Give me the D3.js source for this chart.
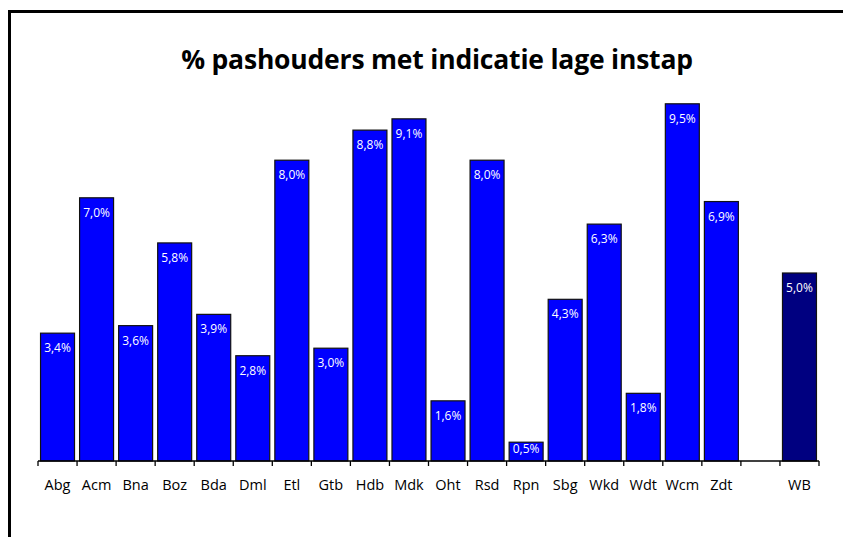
<!DOCTYPE html>
<html lang="nl">
<head>
<meta charset="UTF-8">
<title>% pashouders met indicatie lage instap</title>
<script src="https://cdn.jsdelivr.net/npm/d3@7"></script>
<style>
  body { margin: 0; background: #fff; }
  svg { display: block; font-family: "Open Sans", "Noto Sans", sans-serif; }
  .title { font-size: 26.5px; font-weight: bold; letter-spacing: -0.2px; }
  .cat { font-size: 14.5px; fill: #000; }
  .val { font-size: 12px; fill: #fff; }
</style>
</head>
<body>
<script>
  // data
  const categories = ["Abg","Acm","Bna","Boz","Bda","Dml","Etl","Gtb","Hdb","Mdk","Oht","Rsd","Rpn","Sbg","Wkd","Wdt","Wcm","Zdt","","WB"];
  const values = [3.4, 7.0, 3.6, 5.8, 3.9, 2.8, 8.0, 3.0, 8.8, 9.1, 1.6, 8.0, 0.5, 4.3, 6.3, 1.8, 9.5, 6.9, null, 5.0];
  const labels = ["3,4%","7,0%","3,6%","5,8%","3,9%","2,8%","8,0%","3,0%","8,8%","9,1%","1,6%","8,0%","0,5%","4,3%","6,3%","1,8%","9,5%","6,9%","","5,0%"];
  const titleText = "% pashouders met indicatie lage instap";

  const width = 843, height = 537;
  const margin = {left: 38, right: 24, top: 85, bottom: 76};

  const svg = d3.select('body').append('svg')
      .attr('width', width)
      .attr('height', height);

  // frame
  svg.append('rect')
      .attr('x', 9.5).attr('y', 11.5)
      .attr('width', 860).attr('height', 560)
      .attr('fill', 'none').attr('stroke', '#000').attr('stroke-width', 3);

  const x = d3.scaleBand()
      .domain(d3.range(categories.length))
      .range([margin.left, width - margin.right])
      .paddingInner(0.13)
      .paddingOuter(0.065);

  const y = d3.scaleLinear()
      .domain([0, 10])
      .range([height - margin.bottom, margin.top]);

  svg.append('text')
      .attr('class', 'title')
      .attr('x', 437).attr('y', 69)
      .attr('text-anchor', 'middle')
      .text(titleText);

  const data = values.map((v, i) => ({i: i, v: v, label: labels[i]}))
      .filter(d => d.v !== null);

  svg.selectAll('rect.bar')
      .data(data)
      .enter().append('rect')
      .attr('class', 'bar')
      .attr('x', d => x(d.i))
      .attr('y', d => y(d.v))
      .attr('width', x.bandwidth())
      .attr('height', d => y(0) - y(d.v))
      .attr('fill', d => categories[d.i] === 'WB' ? '#000080' : '#0000ff')
      .attr('stroke', '#111')
      .attr('stroke-width', 1.2);

  // label inside end, pulled up for very short bars
  svg.selectAll('text.val')
      .data(data)
      .enter().append('text')
      .attr('class', 'val')
      .attr('x', d => x(d.i) + x.bandwidth() / 2)
      .attr('y', d => Math.min(y(d.v) + 19, y(0) - 8))
      .attr('text-anchor', 'middle')
      .text(d => d.label);

  // x axis: ticks between categories
  const step = x.step();
  const x0 = margin.left;
  const tickPos = d3.range(categories.length + 1).map(k => x0 + k * step);

  const axis = svg.append('g');
  axis.append('line')
      .attr('x1', x0).attr('x2', width - margin.right)
      .attr('y1', y(0)).attr('y2', y(0))
      .attr('stroke', '#000').attr('stroke-width', 1.3);
  axis.selectAll('line.tick')
      .data(tickPos)
      .enter().append('line')
      .attr('class', 'tick')
      .attr('x1', d => d).attr('x2', d => d)
      .attr('y1', y(0)).attr('y2', y(0) + 5)
      .attr('stroke', '#000').attr('stroke-width', 1.3);

  axis.selectAll('text.cat')
      .data(categories)
      .enter().append('text')
      .attr('class', 'cat')
      .attr('x', (d, i) => x(i) + x.bandwidth() / 2)
      .attr('y', y(0) + 29)
      .attr('text-anchor', 'middle')
      .text(d => d);
</script>
</body>
</html>
